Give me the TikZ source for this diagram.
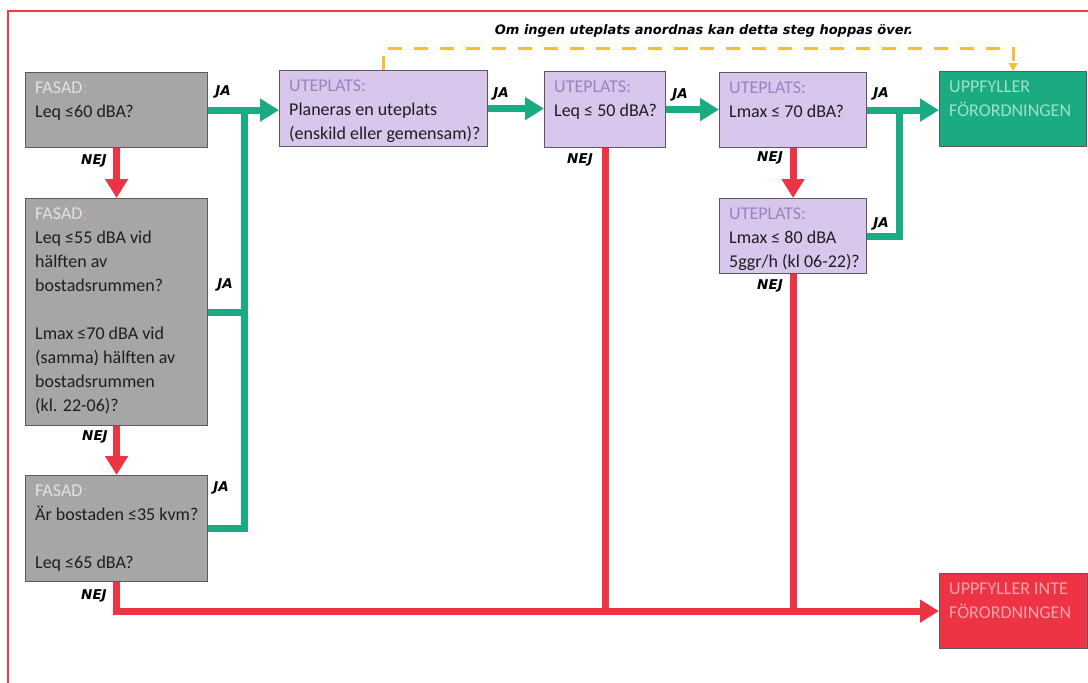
\documentclass[tikz,border=0pt]{standalone}
\usepackage{fontspec}
\setmainfont{Carlito}
\newfontfamily\lblfont{DejaVu Sans}
\usetikzlibrary{arrows.meta}

\definecolor{fasadfill}{HTML}{A6A6A6}
\definecolor{boxline}{HTML}{5A5A5A}
\definecolor{utefill}{HTML}{D9C6EC}
\definecolor{utehead}{HTML}{9685C0}
\definecolor{fasadhead}{HTML}{E2E2E2}
\definecolor{colonpink}{HTML}{D9A7B0}
\definecolor{jagreen}{HTML}{1AAB82}
\definecolor{nejred}{HTML}{EE3444}
\definecolor{oktext}{HTML}{9EE2C8}
\definecolor{notext}{HTML}{F8A3AA}
\definecolor{skipyellow}{HTML}{F1C232}
\definecolor{framered}{HTML}{EE3A4A}
\definecolor{txt}{HTML}{1E1E1E}

\newcommand{\fasad}{\textcolor{fasadhead}{FASAD}\textcolor{colonpink}{:}}
\newcommand{\utep}{\textcolor{utehead}{UTEPLATS:}}

\tikzset{
  box/.style={draw=boxline, line width=1.2pt, anchor=north west, inner sep=0pt},
  fasadbox/.style={box, fill=fasadfill},
  utebox/.style={box, fill=utefill},
  okbox/.style={box, fill=jagreen},
  notbox/.style={box, fill=nejred},
  boxtext/.style={anchor=north west, align=left, inner xsep=10pt, inner ysep=9.5pt,
    font=\fontsize{18}{24}\selectfont, text=txt},
  lbl/.style={font=\lblfont\bfseries\itshape\fontsize{13.5}{16}\selectfont, text=black},
  jaline/.style={draw=jagreen, line width=7pt},
  jaarrow/.style={jaline, -{Triangle[width=22pt,length=19pt]}},
  nejline/.style={draw=nejred, line width=7pt},
  nejarrow/.style={nejline, -{Triangle[width=22pt,length=19pt]}},
  skip/.style={draw=skipyellow, line width=3pt, dash pattern=on 14pt off 12pt,
    -{Triangle[width=9pt,length=8pt]}}
}

\begin{document}
\begin{tikzpicture}[x=1pt,y=-1pt]

  \useasboundingbox (0,0) rectangle (1088,683);

  % --- outer frame ---
  \draw[framered, line width=2pt] (8,11) rectangle (1100,700);

  % --- FASAD boxes ---
  \node[fasadbox, minimum width=182pt, minimum height=75pt,
    label={[boxtext]north west:{\fasad\\Leq ≤60 dBA?}}] (f1) at (25,72) {};
  \node[fasadbox, minimum width=182pt, minimum height=227pt,
    label={[boxtext]north west:{\fasad\\Leq ≤55 dBA vid\\hälften av\\bostadsrummen?\\[24pt]Lmax ≤70 dBA vid\\(samma) hälften av\\bostadsrummen\\(kl. 22-06)?}}] (f2) at (25,198) {};
  \node[fasadbox, minimum width=182pt, minimum height=106pt,
    label={[boxtext]north west:{\fasad\\Är bostaden ≤35 kvm?\\[24pt]Leq ≤65 dBA?}}] (f3) at (25,475) {};

  % --- UTEPLATS boxes ---
  \node[utebox, minimum width=208pt, minimum height=76pt,
    label={[boxtext]north west:{\utep\\Planeras en uteplats\\(enskild eller gemensam)?}}] (u1) at (279,70) {};
  \node[utebox, minimum width=121pt, minimum height=76pt,
    label={[boxtext]north west:{\utep\\Leq ≤ 50 dBA?}}] (u2) at (544,71) {};
  \node[utebox, minimum width=147pt, minimum height=75pt,
    label={[boxtext]north west:{\utep\\Lmax ≤ 70 dBA?}}] (u3) at (719,72) {};
  \node[utebox, minimum width=147pt, minimum height=75pt,
    label={[boxtext]north west:{\utep\\Lmax ≤ 80 dBA\\5ggr/h (kl 06-22)?}}] (u4) at (719,198) {};

  % --- results ---
  \node[okbox, minimum width=147pt, minimum height=75pt,
    label={[boxtext, text=oktext]north west:{UPPFYLLER\\FÖRORDNINGEN}}] (ok) at (939,71) {};
  \node[notbox, minimum width=148pt, minimum height=75pt,
    label={[boxtext, text=notext]north west:{UPPFYLLER INTE\\FÖRORDNINGEN}}] (no) at (939,573) {};

  % --- junctions ---
  \coordinate (jf) at (244,0);
  \coordinate (jo) at (899,0);

  % --- JA connectors ---
  \draw[jaarrow] (f1.east) -- (f1.east -| u1.west);
  \draw[jaline] (f2.east) -- (jf |- f2.east);
  \draw[jaline] (f3.east) -| (jf |- f1.east);
  \draw[jaarrow] (u1.east) -- (u1.east -| u2.west);
  \draw[jaarrow] (u2.east) -- (u2.east -| u3.west);
  \draw[jaarrow] (u3.east) -- (u3.east -| ok.west);
  \draw[jaline] (u4.east) -| (jo |- u3.east);

  % --- NEJ connectors ---
  \draw[nejarrow] (f1.south) -- (f2.north);
  \draw[nejarrow] (f2.south) -- (f3.north);
  \draw[nejarrow] (f3.south) |- (no.west);
  \draw[nejline] (u2.south) -- (u2.south |- no.west);
  \draw[nejarrow] (u3.south) -- (u4.north);
  \draw[nejline] (u4.south) -- (u4.south |- no.west);

  % --- skip path ---
  \draw[skip] (u1.north) |- ([yshift=23pt]ok.north) -- (ok.north);
  \node[lbl, font=\lblfont\bfseries\itshape\fontsize{13}{15}\selectfont] (skiptext) at (704,31)
    {Om ingen uteplats anordnas kan detta steg hoppas över.};

  % --- labels ---
  \node[lbl] (ja1) at (223,92) {JA};
  \node[lbl] (ja2) at (225,285) {JA};
  \node[lbl] (ja3) at (221,488) {JA};
  \node[lbl] (ja4) at (501,94) {JA};
  \node[lbl] (ja5) at (680,95) {JA};
  \node[lbl] (ja6) at (881,94) {JA};
  \node[lbl] (ja7) at (881,224) {JA};
  \node[lbl] (nej1) at (94,161) {NEJ};
  \node[lbl] (nej2) at (95,437) {NEJ};
  \node[lbl] (nej3) at (94,596) {NEJ};
  \node[lbl] (nej4) at (580,160) {NEJ};
  \node[lbl] (nej5) at (770,158) {NEJ};
  \node[lbl] (nej6) at (770,286) {NEJ};

\end{tikzpicture}
\end{document}
